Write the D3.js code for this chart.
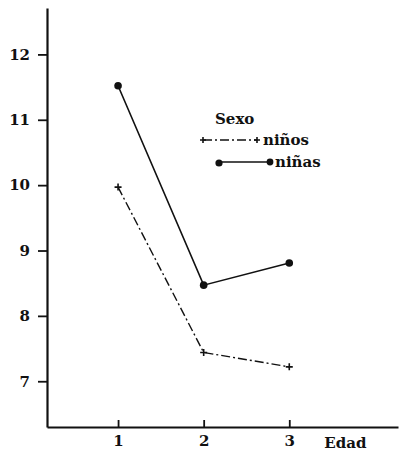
<!DOCTYPE html>
<html>
<head>
<meta charset="utf-8">
<script src="https://cdn.jsdelivr.net/npm/d3@7"></script>
<style>
  html, body { margin: 0; padding: 0; background: #fff; }
  svg { display: block; }
</style>
</head>
<body>
<svg id="chart" width="410" height="452"></svg>
<script>
// Age groups (x) and mean values for each sex
const edades = [1, 2, 3];
const ninos = [9.97, 7.44, 7.22];
const ninas = [11.52, 8.47, 8.81];
const yTicks = [7, 8, 9, 10, 11, 12];
const legendTitle = "Sexo";
const legendLabels = ["niños", "niñas"];
const xTitle = "Edad";

const svg = d3.select("#chart");
const ink = "#111";
const serif = "'DejaVu Serif', 'Liberation Serif', serif";
const fs = 15;

function styleText(sel) {
  sel.style("font-family", serif).style("font-weight", "bold")
     .style("font-size", fs + "px").attr("fill", ink);
}

const x = d3.scaleLinear().domain([0.17, 4.27]).range([47, 398]);
const y = d3.scaleLinear().domain([6.3, 12.71]).range([427, 8]);

// Y axis
const yAxis = svg.append("g")
  .attr("transform", `translate(${x.range()[0]},0)`)
  .call(d3.axisLeft(y).tickValues(yTicks).tickFormat(d3.format("d"))
    .tickSize(9).tickPadding(8).tickSizeOuter(0));
yAxis.attr("font-family", null).attr("font-size", null);
yAxis.select(".domain").attr("stroke", ink).attr("stroke-width", 2.2);
yAxis.selectAll(".tick line").attr("stroke", ink).attr("stroke-width", 1.8);
styleText(yAxis.selectAll(".tick text"));

// X axis (ticks point up into the plot)
const xAxis = svg.append("g")
  .attr("transform", `translate(0,${y.range()[0]})`)
  .call(d3.axisBottom(x).tickValues(edades).tickFormat(d3.format("d"))
    .tickSize(0).tickPadding(8).tickSizeOuter(0));
xAxis.attr("font-family", null).attr("font-size", null);
xAxis.select(".domain").attr("stroke", ink).attr("stroke-width", 2.2);
xAxis.selectAll(".tick line").attr("y2", -7).attr("stroke", ink).attr("stroke-width", 1.8);
styleText(xAxis.selectAll(".tick text"));

styleText(svg.append("text")
  .attr("x", x(3) + 35).attr("y", y.range()[0] + 21)
  .text(xTitle));

const line = d3.line().x((d, i) => x(edades[i])).y(d => y(d));
const dashNinos = "9,3,2,3";

// niños: dash-dot line with plus markers
svg.append("path").datum(ninos)
  .attr("d", line).attr("fill", "none")
  .attr("stroke", ink).attr("stroke-width", 1.4)
  .attr("stroke-dasharray", dashNinos);

function plus(g, cx, cy, s) {
  g.append("path")
    .attr("d", `M${cx - s},${cy}H${cx + s}M${cx},${cy - s}V${cy + s}`)
    .attr("stroke", ink).attr("stroke-width", 1.6).attr("fill", "none");
}
ninos.forEach((v, i) => plus(svg, x(edades[i]), y(v), 3.5));

// niñas: solid line with filled dots
svg.append("path").datum(ninas)
  .attr("d", line).attr("fill", "none")
  .attr("stroke", ink).attr("stroke-width", 1.6);
svg.selectAll("circle.ninas").data(ninas).join("circle")
  .attr("class", "ninas")
  .attr("cx", (d, i) => x(edades[i])).attr("cy", d => y(d))
  .attr("r", 3.8).attr("fill", ink);

// Legend
const lg = svg.append("g");
styleText(lg.append("text").attr("x", 215).attr("y", 124).text(legendTitle));

lg.append("line").attr("x1", 203).attr("x2", 257).attr("y1", 140).attr("y2", 140)
  .attr("stroke", ink).attr("stroke-width", 1.4).attr("stroke-dasharray", dashNinos);
plus(lg, 203, 140, 3);
plus(lg, 257, 140, 3);
styleText(lg.append("text").attr("x", 263).attr("y", 145).text(legendLabels[0]));

lg.append("line").attr("x1", 219).attr("x2", 270).attr("y1", 162).attr("y2", 162)
  .attr("stroke", ink).attr("stroke-width", 1.6);
lg.append("circle").attr("cx", 219).attr("cy", 163).attr("r", 3.6).attr("fill", ink);
lg.append("circle").attr("cx", 270).attr("cy", 162).attr("r", 3.4).attr("fill", ink);
styleText(lg.append("text").attr("x", 275).attr("y", 167).text(legendLabels[1]));
</script>
</body>
</html>
